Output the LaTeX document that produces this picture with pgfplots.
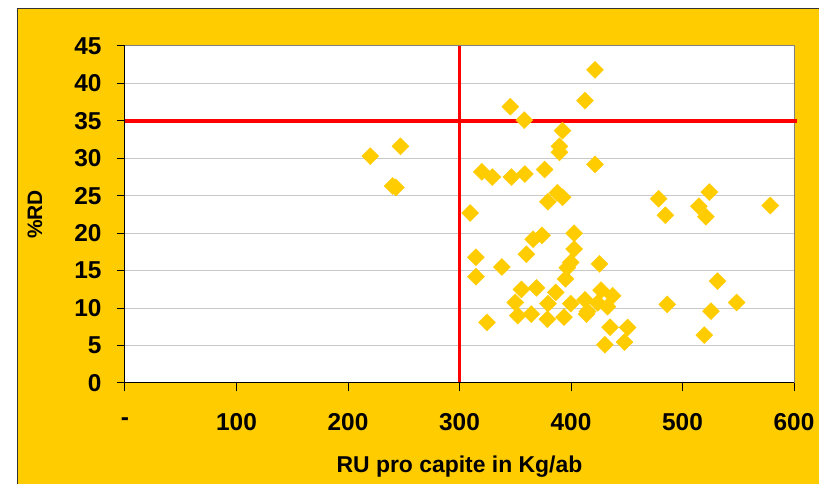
\documentclass[border=0pt]{standalone}
\usepackage{fontspec}
\setmainfont{Liberation Sans}
\usepackage{pgfplots}
\usepackage{pgfplotstable}
\pgfplotsset{compat=1.18}
\definecolor{xlgold}{HTML}{FFCC00}
\definecolor{xlgrid}{HTML}{C8C8C8}

% RU pro capite (Kg/ab) vs %RD
\pgfplotstableread{
x y
220 30.3
247 31.6
240 26.3
243 26.1
345.6 36.9
358 35.1
421.5 41.8
412.6 37.7
392.4 33.7
389.6 31.6
389.6 30.8
421.5 29.2
320 28.2
329.4 27.5
346.6 27.5
358.6 27.9
376.3 28.5
379.3 24.2
387.8 25.4
392.4 24.8
309.6 22.7
478.5 24.6
484.6 22.4
524 25.5
514.6 23.6
521 22.2
578.7 23.7
314.7 16.8
314.7 14.2
338 15.5
366 19.2
374 19.7
402.8 20.0
360 17.2
402.8 17.9
399.7 16.1
396.7 15.4
425.6 15.9
395 13.9
531.4 13.6
355.5 12.5
369 12.7
386.3 12.1
350 10.75
379.3 10.6
399.8 10.6
412.5 11.1
427 12.4
437.3 11.65
424 10.7
432.8 10.2
414.8 9.55
486.3 10.5
548.6 10.75
525.5 9.6
352.2 9.0
364.3 9.2
378.8 8.5
393.7 8.8
413.9 9.2
324.6 8.1
435 7.45
450.8 7.4
448 5.45
430.4 5.1
519.5 6.4
}\rudata

\begin{document}
\begin{tikzpicture}[x=1bp,y=1bp]
\path[use as bounding box] (-125,-101) rectangle (694,383);
\fill[white] (-125,-101) rectangle (694,383);
\filldraw[fill=xlgold, draw=black!80, line width=1.5bp] (-107.5,-115) rectangle (710,374.5);
\begin{axis}[
    scale only axis, width=669bp, height=337bp,
    xmin=0, xmax=600, ymin=0, ymax=45,
    xtick={0,100,...,600}, xticklabels={-,100,200,300,400,500,600},
    ytick={0,5,...,45}, yticklabels={0,5,10,15,20,25,30,35,40,45},
    xtick pos=bottom, ytick pos=left,
    tick align=outside, major tick length=8bp,
    major tick style={draw=black, line width=1bp},
    ymajorgrids, grid style={xlgrid, line width=1bp},
    axis background/.style={fill=white},
    axis line style={gray, line width=1bp},
    tick label style={font=\bfseries\fontsize{24.5}{24.5}\selectfont},
    xticklabel style={anchor=center, yshift=-31bp},
    yticklabel style={anchor=east, xshift=-12bp},
    xlabel={RU pro capite in Kg/ab},
    xlabel style={font=\bfseries\fontsize{23}{23}\selectfont,
        at={(axis description cs:0.5,-0.249)}, anchor=center},
    ylabel={\%RD},
    ylabel style={font=\bfseries\fontsize{21}{21}\selectfont,
        at={(axis description cs:-0.1345,0.5)}, anchor=center},
    clip=false,
]
\addplot[red, line width=3.5bp] coordinates {(300,0) (300,45)};
\addplot[red, line width=3.5bp] coordinates {(0,35) (603,35)};
\addplot[only marks, mark=square*, mark size=6bp, color=xlgold,
    mark options={rotate=45, fill=xlgold, draw=xlgold}] table[x=x,y=y] {\rudata};
\draw[black, line width=1bp] (rel axis cs:0,1) -- (rel axis cs:0,0) -- (rel axis cs:1,0);
% outside tick marks, as in the source chart
\pgfplotsinvokeforeach{0,100,200,300,400,500,600}{
  \draw[black, line width=1bp] (axis cs:#1,0) -- ++(0,-8bp);}
\pgfplotsinvokeforeach{0,5,10,15,20,25,30,35,40,45}{
  \draw[black, line width=1bp] (axis cs:0,#1) -- ++(-8bp,0);}
\end{axis}
\end{tikzpicture}
\end{document}
